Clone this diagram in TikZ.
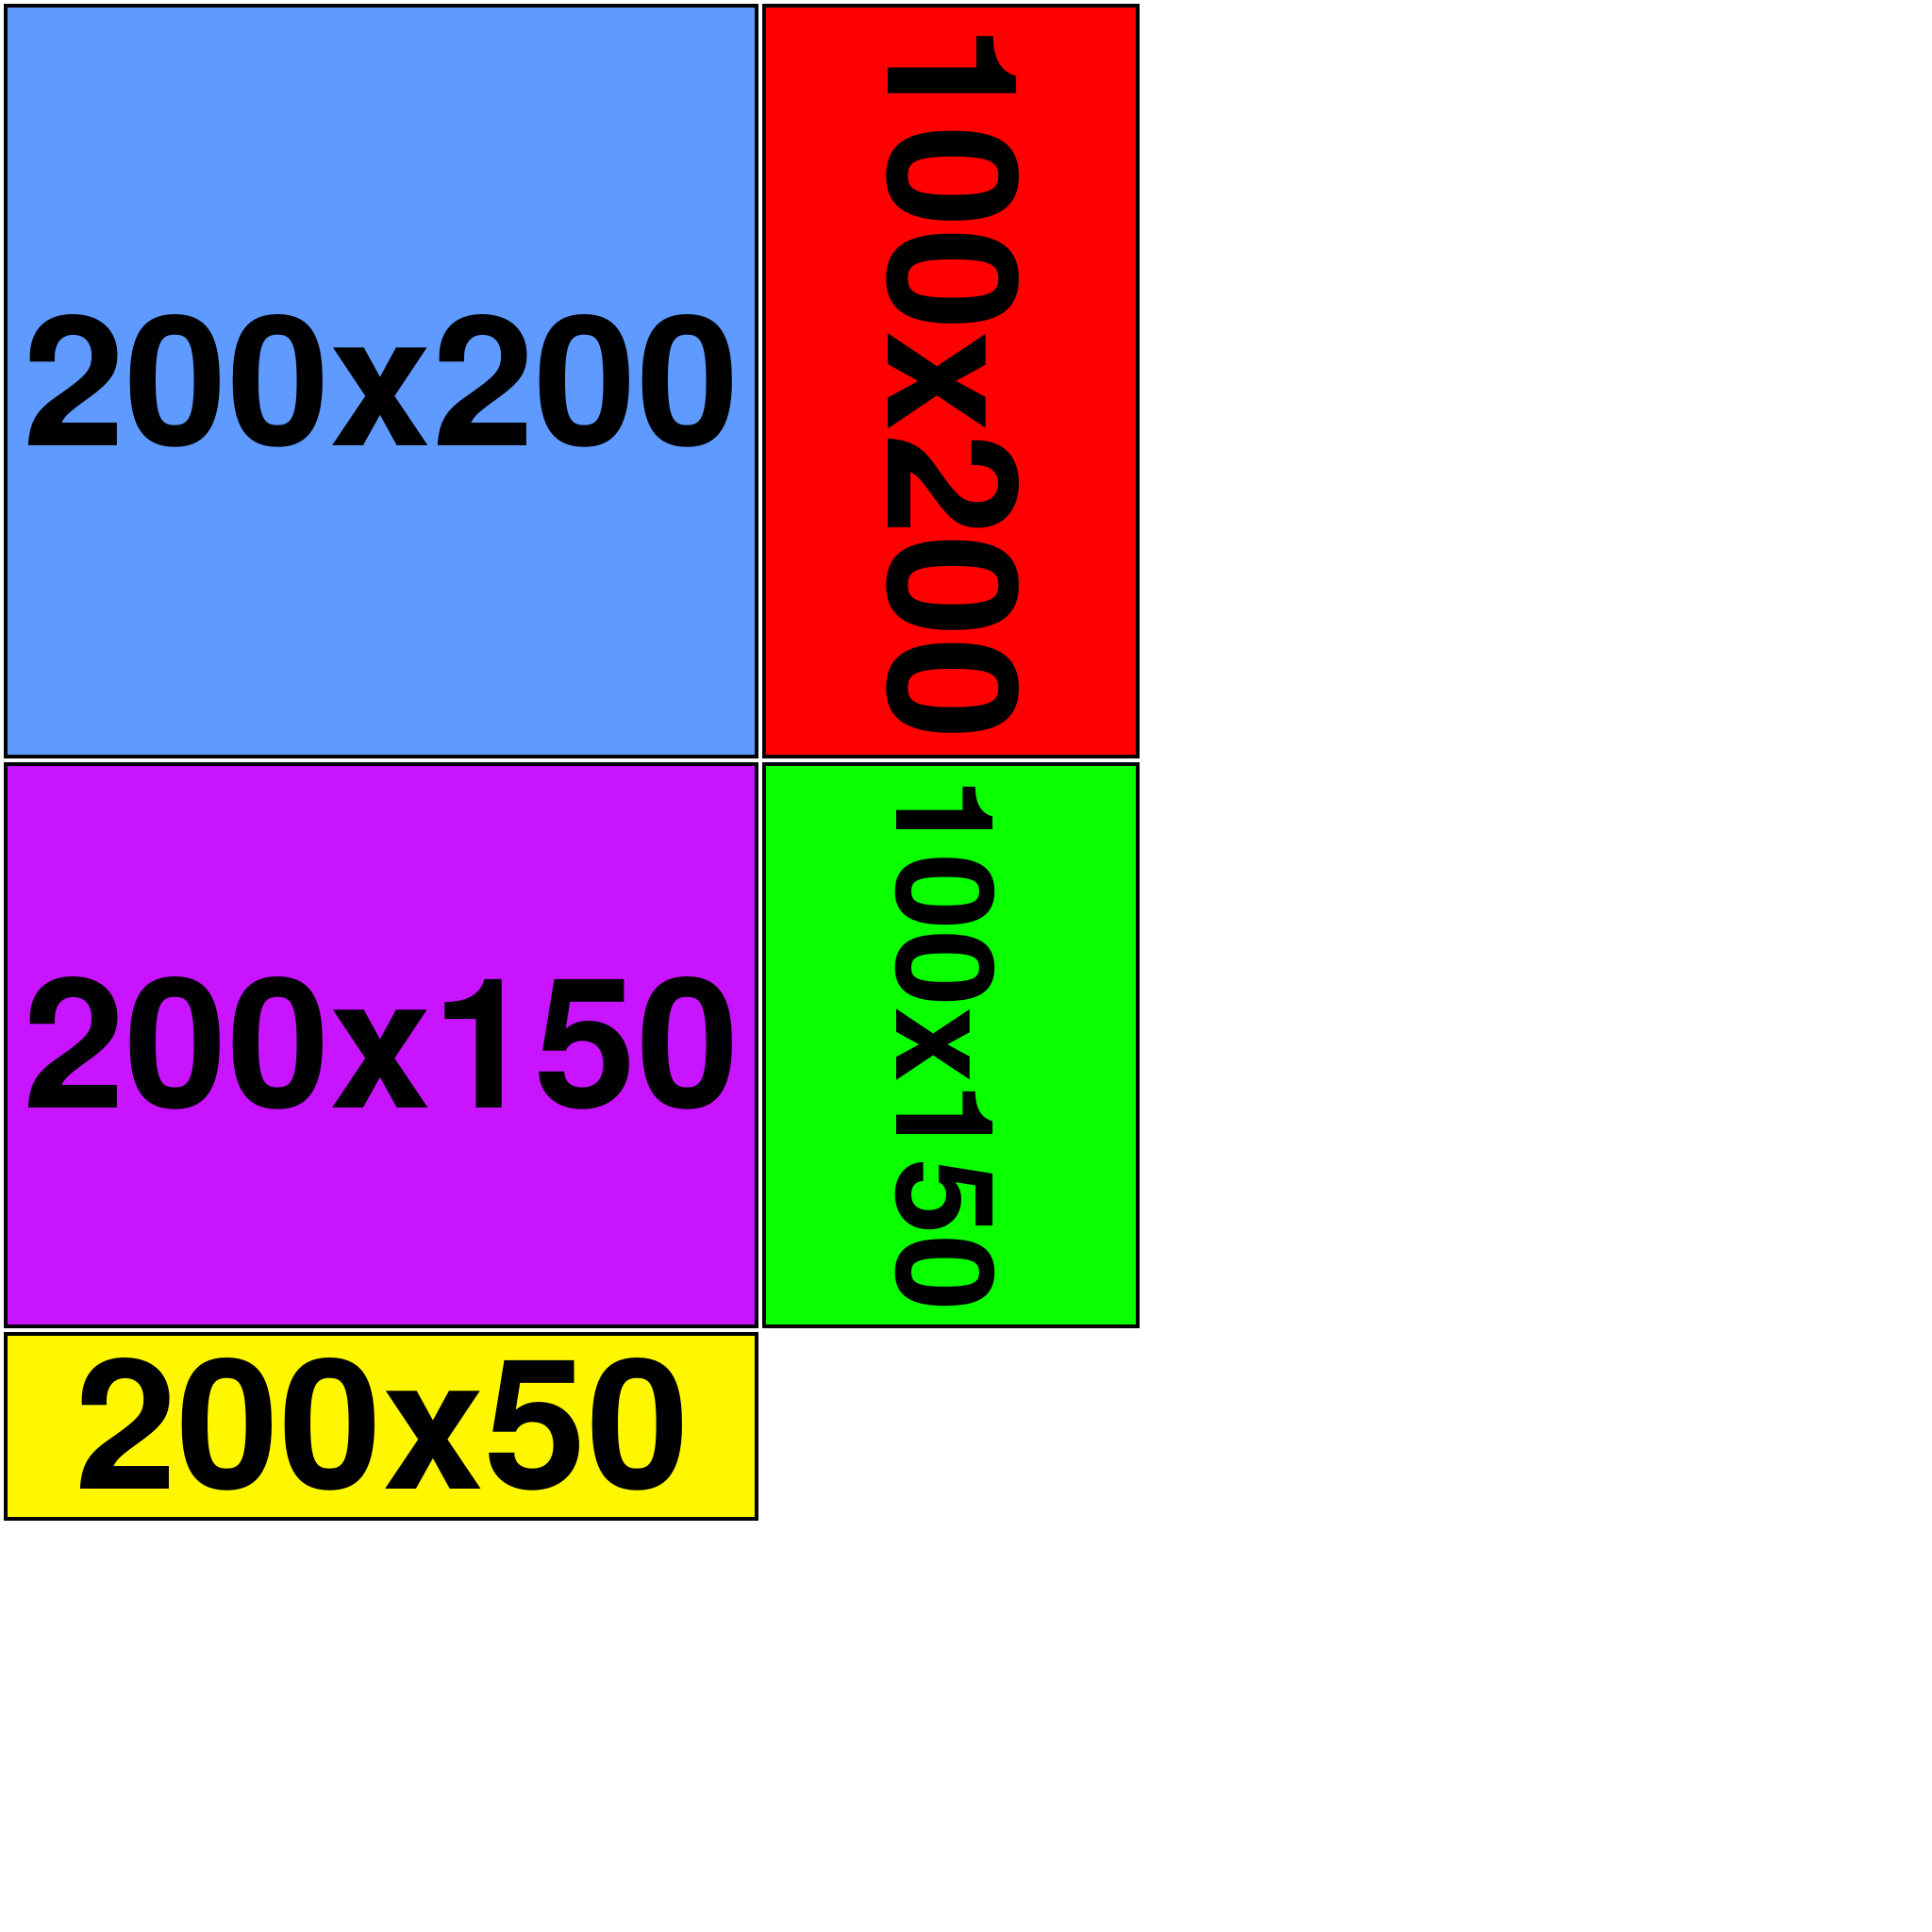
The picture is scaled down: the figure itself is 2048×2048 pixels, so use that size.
\documentclass[tikz,border=0pt]{standalone}
\usepackage{graphicx}
\usepackage{fontspec}
\setmainfont{TeX Gyre Heros}
\definecolor{cblue}{RGB}{94,154,255}
\definecolor{cred}{RGB}{255,0,0}
\definecolor{cpurple}{RGB}{200,20,255}
\definecolor{cgreen}{RGB}{10,255,0}
\definecolor{cyellow}{RGB}{255,247,0}
\newcommand{\wide}[2][1.016]{\scalebox{#1}[1]{#2}}
\begin{document}
\begin{tikzpicture}[x=1pt,y=-1pt,
  box/.style={draw=black,line width=4pt,inner sep=0pt,outer sep=0pt},
  lbl/.style={font=\bfseries\fontsize{192}{192}\selectfont,inner sep=0pt},
  slbl/.style={font=\bfseries\fontsize{144}{144}\selectfont,inner sep=0pt}]
\useasboundingbox (0,0) rectangle (2048,2048);
\fill[white] (0,0) rectangle (2048,2048);
\node[box,fill=cblue,minimum width=796pt,minimum height=796pt] (blue) at (404,404) {};
\node[box,fill=cred,minimum width=396pt,minimum height=796pt] (red) at (1008,404) {};
\node[box,fill=cpurple,minimum width=796pt,minimum height=596pt] (purple) at (404,1108) {};
\node[box,fill=cgreen,minimum width=396pt,minimum height=596pt] (green) at (1008,1108) {};
\node[box,fill=cyellow,minimum width=796pt,minimum height=196pt] (yellow) at (404,1512) {};
\node[lbl] (bluet) at (404,404) {\wide{200x200}};
\node[lbl,rotate=-90] (redt) at (1010,405) {\wide{100x200}};
\node[lbl] (purplet) at (404,1106) {\wide{200x150}};
\node[slbl,rotate=-90] (greent) at (1002,1107.5) {\wide[1.01]{100x150}};
\node[lbl] (yellowt) at (405,1510) {\wide[1.017]{200x50}};
\end{tikzpicture}
\end{document}
